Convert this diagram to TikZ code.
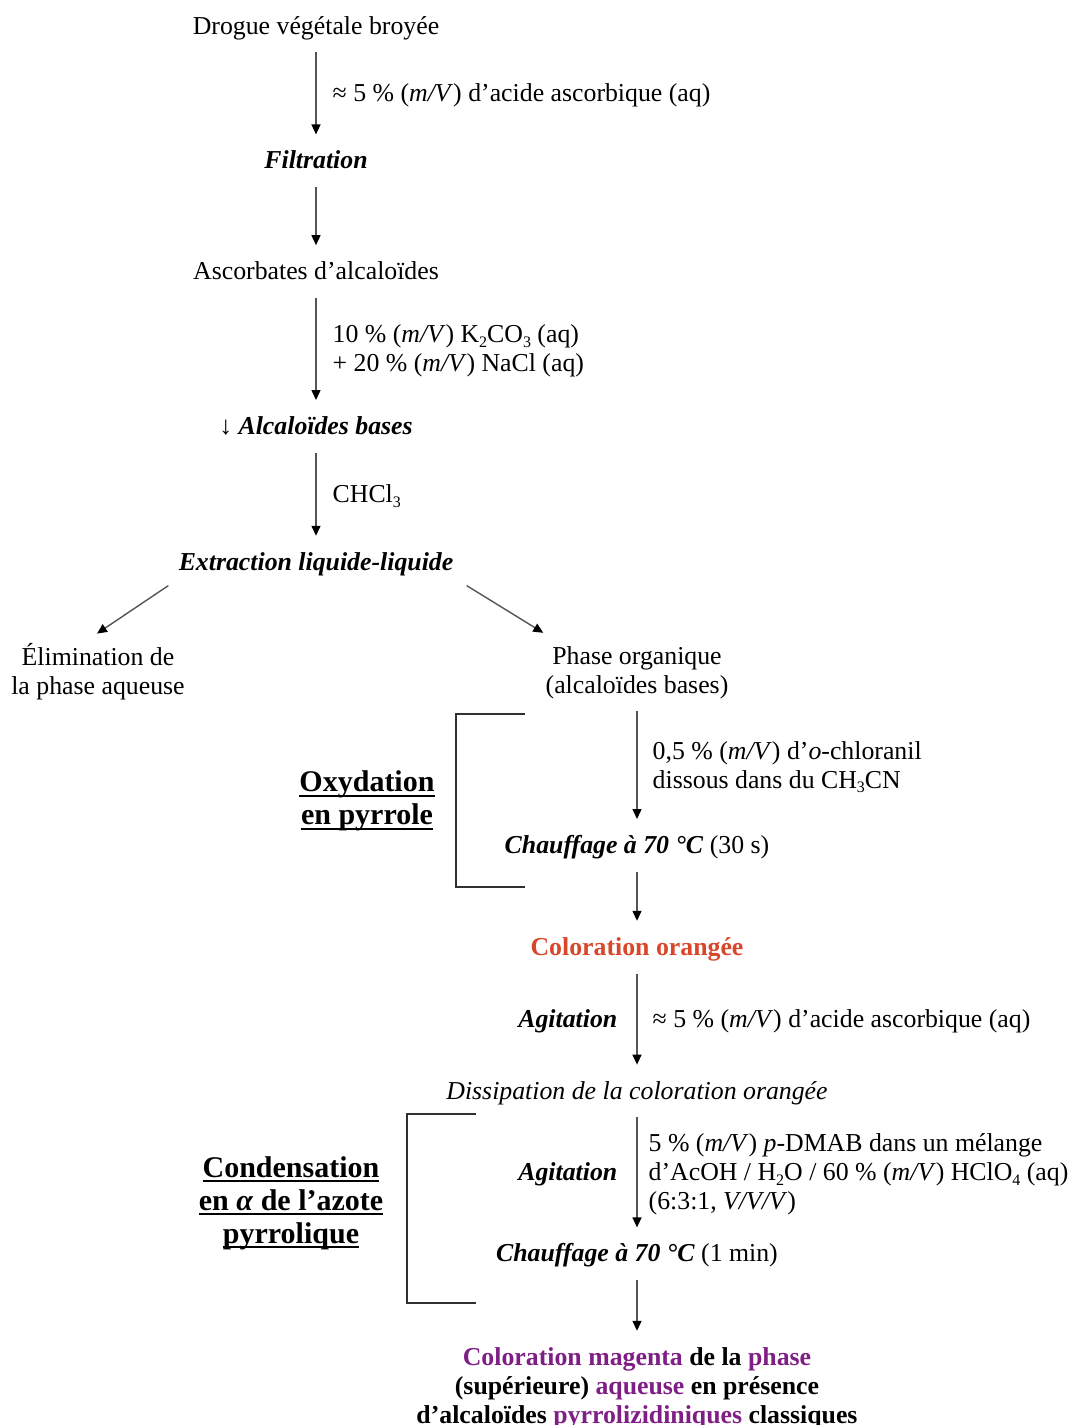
\documentclass[tikz,border=0pt]{standalone}
\usepackage{fontspec}
\setmainfont{Liberation Serif}
\usepackage{xcolor}
\usepackage{tikz}
\usetikzlibrary{arrows.meta, positioning, calc}
\definecolor{colorange}{HTML}{D9472B}
\definecolor{colmagenta}{HTML}{7F1F86}
\definecolor{flowgray}{HTML}{555555}
\definecolor{bracketgray}{HTML}{303030}
\newcommand{\mainsize}{\fontsize{12.9pt}{14.5pt}\selectfont}
\newcommand{\titlesize}{\fontsize{15pt}{16.5pt}\selectfont}
\newcommand{\ulword}[1]{\setbox0=\hbox{#1}\rlap{\rule[-2.6pt]{\wd0}{1pt}}\box0}
\newcommand{\chemsub}[1]{\raisebox{-2.2pt}{\fontsize{8pt}{8pt}\selectfont #1}}

\begin{document}
\begin{tikzpicture}[
        x=0.5pt, y=-0.5pt,
        stage/.style={font=\mainsize, inner sep=0pt, text height=9pt, text depth=3pt, anchor=base},
        multi/.style={font=\mainsize, inner sep=0pt, align=center},
        note/.style={font=\mainsize, text=black, inner sep=0pt, align=left},
        phaselabel/.style={font=\titlesize\bfseries, inner sep=0pt, align=center},
        flow/.style={-{Triangle[length=5pt, width=4.5pt, color=black]}, line width=0.7pt, flowgray, shorten <=6pt, shorten >=8pt},
        branch/.style={-{Triangle[length=5pt, width=4.5pt, color=black]}, line width=0.7pt, flowgray},
        bracketline/.style={line width=1.2pt, bracketgray}
    ]
    \useasboundingbox (0,0) rectangle (1071,1425);

    % extraction column
    \node[stage] (drogue) at (316,34) {Drogue végétale broyée};
    \node[stage, below=55pt of drogue] (filtration) {\textbf{\textit{Filtration}}};
    \node[stage, below=43pt of filtration] (ascorbates) {Ascorbates d’alcaloïdes};
    \node[stage, below=65pt of ascorbates] (bases) {↓ \textbf{\textit{Alcaloïdes bases}}};
    \node[stage, below=55.5pt of bases] (extraction) {\textbf{\textit{Extraction liquide-liquide}}};

    \node[multi, anchor=south] (elimination) at (98,700) {Élimination de\\la phase aqueuse};
    \node[multi, anchor=south] (organique) at (637,699) {Phase organique\\(alcaloïdes bases)};

    % detection column
    \node[stage, below=68pt of organique] (chauffage1) {\textbf{\textit{Chauffage à 70 °C}} (30 s)};
    \node[stage, below=38.5pt of chauffage1] (orangee) {\textcolor{colorange}{\textbf{Coloration orangée}}};
    \node[stage, below=59.5pt of orangee] (dissipation) {\textit{Dissipation de la coloration orangée}};
    \node[stage, below=69pt of dissipation] (chauffage2) {\textbf{\textit{Chauffage à 70 °C}} (1 min)};
    \node[multi, font=\mainsize\bfseries, below=39.3pt of chauffage2] (magenta) {\textcolor{colmagenta}{Coloration magenta} de la \textcolor{colmagenta}{phase}\\(supérieure) \textcolor{colmagenta}{aqueuse} en présence\\d’alcaloïdes \textcolor{colmagenta}{pyrrolizidiniques} classiques};

    \draw[flow] (drogue) -- node[note, right=8pt] (ascorbique1) {≈ 5 \% (\textit{m/V}) d’acide ascorbique (aq)} (filtration);
    \draw[flow] (filtration) -- (ascorbates);
    \draw[flow] (ascorbates) -- node[note, right=8pt] (carbonate) {10 \% (\textit{m/V}) K\chemsub{2}CO\chemsub{3} (aq)\\+ 20 \% (\textit{m/V}) NaCl (aq)} (bases);
    \draw[flow] (bases) -- node[note, right=8pt] (chloroforme) {CHCl\chemsub{3}} (extraction);
    \draw[branch] ($(extraction.south west)+(-10,9)$) -- ($(elimination.north)+(-1,-9)$);
    \draw[branch] ($(extraction.south east)+(13,9)$) -- ($(organique.north west)+(-2,-13)$);

    \draw[flow] (organique) -- node[note, right=7.5pt] (chloranil) {0,5 \% (\textit{m/V}) d’\textit{o}-chloranil\\dissous dans du CH\chemsub{3}CN} (chauffage1);
    \draw[flow] (chauffage1) -- (orangee);
    \draw[flow] (orangee) -- node[note, left=9.5pt] (agitation1) {\textbf{\textit{Agitation}}}
        node[note, right=7.5pt] (ascorbique2) {≈ 5 \% (\textit{m/V}) d’acide ascorbique (aq)} (dissipation);
    \draw[flow] (dissipation) -- node[note, left=9.5pt] (agitation2) {\textbf{\textit{Agitation}}}
        node[note, right=5.5pt] (dmab) {5 \% (\textit{m/V}) \textit{p}-DMAB dans un mélange\\d’AcOH / H\chemsub{2}O / 60 \% (\textit{m/V}) HClO\chemsub{4} (aq)\\(6:3:1, \textit{V/V/V})} (chauffage2);
    \draw[flow] (chauffage2) -- (magenta);

    % brackets
    \draw[bracketline] (525,714) -- (456,714) -- (456,887) -- (525,887);
    \draw[bracketline] (476,1114) -- (407,1114) -- (407,1303) -- (476,1303);

    \node[phaselabel] (oxydation) at (367,801) {\ulword{Oxydation}\\\ulword{en pyrrole}};
    \node[phaselabel] (condensation) at (291,1203) {\ulword{Condensation}\\\ulword{en \textit{α} de l’azote}\\\ulword{pyrrolique}};
\end{tikzpicture}
\end{document}
